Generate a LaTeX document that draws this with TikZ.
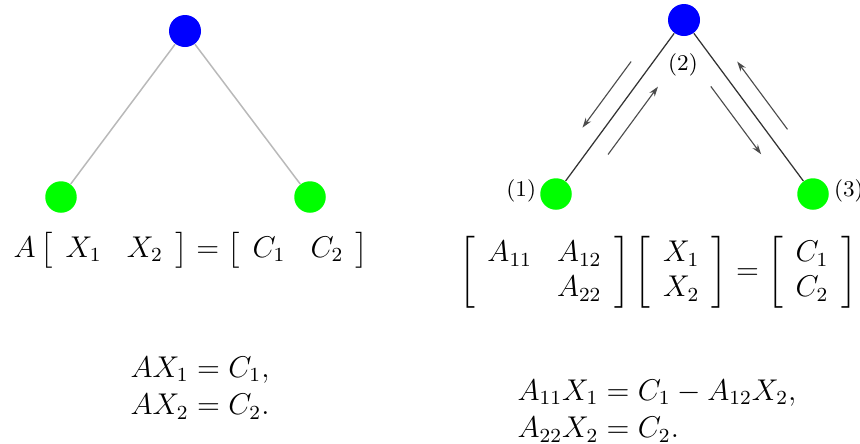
\documentclass[tikz,border=0pt]{standalone}
\usepackage{amsmath,amssymb}
\usepackage{tikz}
\usetikzlibrary{arrows.meta,calc}
\setlength{\jot}{1pt}
\tikzset{
  vtop/.style={circle, fill=blue, minimum size=12.8pt, inner sep=0pt},
  vleaf/.style={circle, fill=green, minimum size=12.6pt, inner sep=0pt},
  lnk/.style={draw=gray!55, line width=0.6pt},
  blnk/.style={draw=black!80, line width=0.5pt},
  flow/.style={draw=black!70, line width=0.45pt, -{Stealth[length=4pt,width=2.6pt]}},
  tag/.style={font=\small, inner sep=1pt},
  eq/.style={font=\large, inner sep=0pt}
}

\begin{document}
\begin{tikzpicture}[x=0.4pt,y=-0.4pt]
\useasboundingbox (0,0) rectangle (860,443);
% left tree
\node[vtop] (ra) at (185,31) {};
\node[vleaf] (la) at (61,197) {};
\node[vleaf] (lb) at (310,197) {};
\draw[lnk] (ra) -- (la);
\draw[lnk] (ra) -- (lb);
% right tree with the passes up and down
\node[vtop] (rb) at (684,20) {};
\node[vleaf] (lc) at (556,194) {};
\node[vleaf] (ld) at (813,194) {};
\draw[blnk] (rb) -- (lc);
\draw[blnk] (rb) -- (ld);
\node[tag, anchor=east] (t1) at (539,191) {(1)};
\node[tag] (t2) at (683,65) {(2)};
\node[tag, anchor=west] (t3) at (831,191) {(3)};
\draw[flow] ($(lc)!0.70!(rb)!7.2pt!90:(rb)$) -- ($(lc)!0.32!(rb)!7.2pt!90:(rb)$);
\draw[flow] ($(lc)!0.29!(rb)!7.4pt!-90:(rb)$) -- ($(lc)!0.68!(rb)!7.4pt!-90:(rb)$);
\draw[flow] ($(rb)!0.32!(ld)!7.2pt!-90:(ld)$) -- ($(rb)!0.71!(ld)!7.2pt!-90:(ld)$);
\draw[flow] ($(rb)!0.69!(ld)!7.2pt!90:(ld)$) -- ($(rb)!0.30!(ld)!7.2pt!90:(ld)$);
% equations
\node[eq] (e1) at (191,250) {$A\left[\begin{array}{cc} X_1 & X_2 \end{array}\right] = \left[\begin{array}{cc} C_1 & C_2 \end{array}\right]$};
\node[eq] (e2) at (658,272) {$\left[\begin{array}{cc} A_{11} & A_{12}\\ & A_{22} \end{array}\right]\left[\begin{array}{c} X_1\\ X_2 \end{array}\right] = \left[\begin{array}{c} C_1\\ C_2 \end{array}\right]$};
\node[eq] (e3) at (200,389) {$\begin{aligned} AX_1 &= C_1,\\ AX_2 &= C_2.\end{aligned}$};
\node[eq] (e4) at (657,412) {$\begin{aligned} A_{11}X_1 &= C_1 - A_{12}X_2,\\ A_{22}X_2 &= C_2.\end{aligned}$};
\end{tikzpicture}
\end{document}
